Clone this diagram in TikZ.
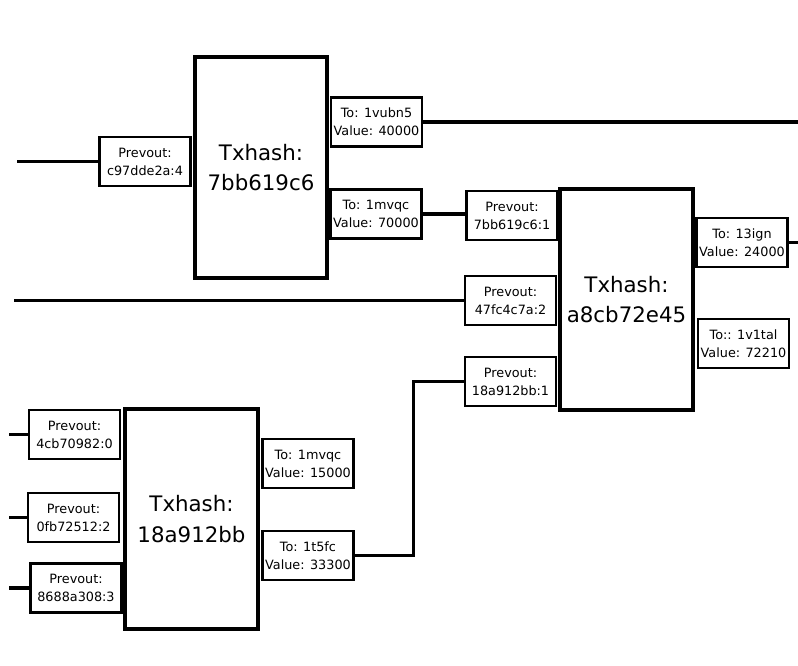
\documentclass[tikz,border=0pt]{standalone}
\usepackage{fontspec}
\setmainfont{DejaVu Sans}

\begin{document}
\begin{tikzpicture}[
  x=0.75pt, y=-0.75pt,
  txbox/.style={
    draw,
    line width=3.2pt,
    align=center,
    inner sep=0pt,
    minimum width=99.5pt,
    minimum height=165.5pt,
    font=\fontsize{16}{23}\selectfont
  },
  port/.style={
    draw,
    line width=1.6pt,
    align=center,
    inner sep=0pt,
    minimum width=68.25pt,
    minimum height=36.75pt,
    font=\fontsize{9.6}{13.5}\selectfont
  },
  link/.style={line width=2.6pt}
]
\useasboundingbox (0,0) rectangle (798,665);

% Transaction 7bb619c6
\node[txbox] (tx1) at (261,167.5) {Txhash:\\7bb619c6};
\node[port] (in1) at (145,161.5) {Prevout:\\c97dde2a:4};
\node[port] (out1a) at (376.5,122) {To: 1vubn5\\Value: 40000};
\node[port] (out1b) at (376,214) {To: 1mvqc\\Value: 70000};

% Transaction a8cb72e45
\node[txbox] (tx2) at (626.5,299.5) {Txhash:\\a8cb72e45};
\node[port] (in2a) at (512,215.5) {Prevout:\\7bb619c6:1};
\node[port] (in2b) at (510.5,300.5) {Prevout:\\47fc4c7a:2};
\node[port] (in2c) at (510.5,381.5) {Prevout:\\18a912bb:1};
\node[port] (out2a) at (742,242.5) {To: 13ign\\Value: 24000};
\node[port] (out2b) at (743.5,343.5) {To:: 1v1tal\\Value: 72210};

% Transaction 18a912bb
\node[txbox] (tx3) at (191.5,519) {Txhash:\\18a912bb};
\node[port] (in3a) at (74.5,434.5) {Prevout:\\4cb70982:0};
\node[port] (in3b) at (73.5,517.5) {Prevout:\\0fb72512:2};
\node[port] (in3c) at (76,588) {Prevout:\\8688a308:3};
\node[port] (out3a) at (308,463.5) {To: 1mvqc\\Value: 15000};
\node[port] (out3b) at (308,555.5) {To: 1t5fc\\Value: 33300};

% Loose ends
\coordinate (src1) at (17,161.5);
\coordinate (src2) at (14,300.5);
\coordinate (src3a) at (9,434.5);
\coordinate (src3b) at (9,517.5);
\coordinate (src3c) at (9,588);
\coordinate (dst1) at (798,122);
\coordinate (dst2) at (798,242.5);

% Links
\draw[link] (src1) -- (in1);
\draw[link] (src2) -- (in2b);
\draw[link] (src3a) -- (in3a);
\draw[link] (src3b) -- (in3b);
\draw[link] (src3c) -- (in3c);
\draw[link] (out1a) -- (dst1);
\draw[link] (out2a) -- (dst2);
\draw[link] (out1b.east) -- (out1b.east -| in2a.west);
\draw[link] (out3b.east) -- ++(59,0) |- (in2c.west);

\end{tikzpicture}
\end{document}
